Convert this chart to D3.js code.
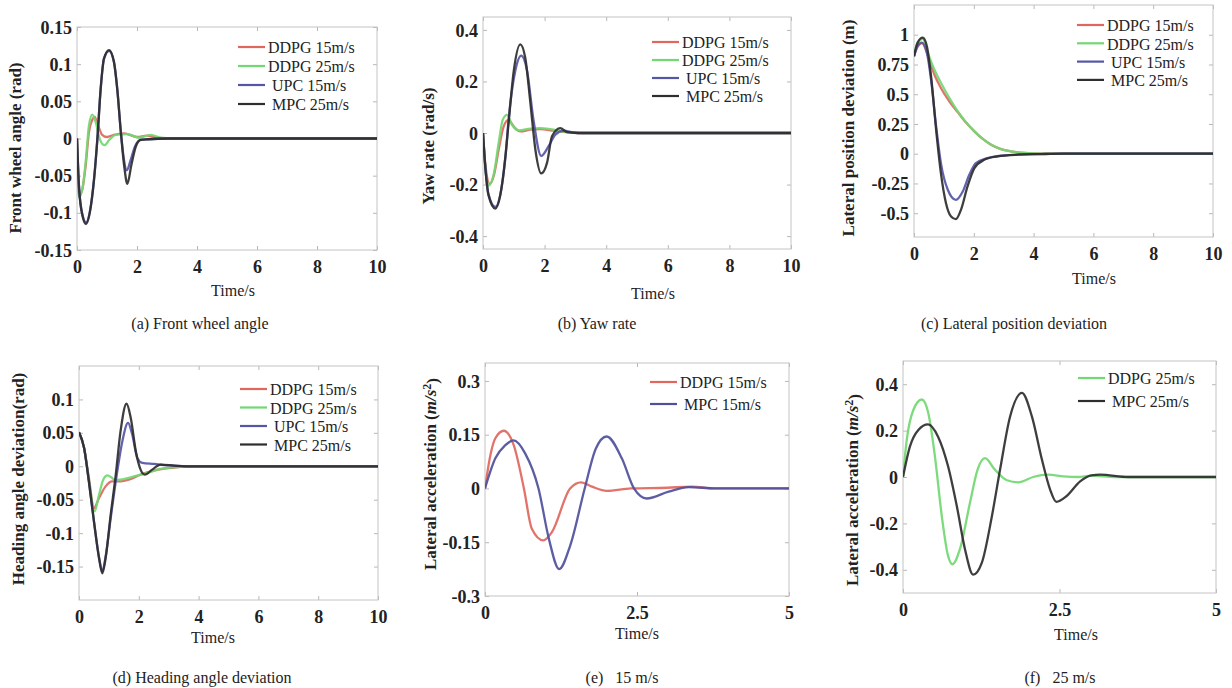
<!DOCTYPE html>
<html>
<head>
<meta charset="utf-8">
<script src="https://cdn.jsdelivr.net/npm/d3@7"></script>
<style>
  body { margin: 0; background: #fff; }
  svg text { font-family: "Liberation Serif", "Times New Roman", serif; fill: #222; white-space: pre; }
  .tick line { stroke: #b8b8b8; }
  .tick text { font-weight: bold; font-size: 18px; }
</style>
</head>
<body>
<svg id="chart" width="1232" height="688"></svg>
<script>
// ---- labels ----
const legendFour = ['DDPG 15m/s', 'DDPG 25m/s', ' UPC 15m/s', ' MPC 25m/s'];
const legend15 = ['DDPG 15m/s', ' MPC 15m/s'];
const legend25 = ['DDPG 25m/s', ' MPC 25m/s'];
const captions = ['(a) Front wheel angle', '(b) Yaw rate', '(c) Lateral position deviation',
                  '(d) Heading angle deviation', '(e)   15 m/s', '(f)   25 m/s'];

// ---- tick values / labels ----
const xTicks10 = [0, 2, 4, 6, 8, 10];
const xTickLabels10 = ['0', '2', '4', '6', '8', '10'];
const xTicks5 = [0, 2.5, 5];
const xTickLabels5 = ['0', '2.5', '5'];
const yTicksA = [-0.15, -0.1, -0.05, 0, 0.05, 0.1, 0.15];
const yTickLabelsA = ['-0.15', '-0.1', '-0.05', '0', '0.05', '0.1', '0.15'];
const yTicksB = [-0.4, -0.2, 0, 0.2, 0.4];
const yTickLabelsB = ['-0.4', '-0.2', '0', '0.2', '0.4'];
const yTicksC = [-0.5, -0.25, 0, 0.25, 0.5, 0.75, 1];
const yTickLabelsC = ['-0.5', '-0.25', '0', '0.25', '0.5', '0.75', '1'];
const yTicksD = [-0.15, -0.1, -0.05, 0, 0.05, 0.1];
const yTickLabelsD = ['-0.15', '-0.1', '-0.05', '0', '0.05', '0.1'];
const yTicksE = [-0.3, -0.15, 0, 0.15, 0.3];
const yTickLabelsE = ['-0.3', '-0.15', '0', '0.15', '0.3'];
const yTicksF = [-0.4, -0.2, 0, 0.2, 0.4];
const yTickLabelsF = ['-0.4', '-0.2', '0', '0.2', '0.4'];

// ---- (a) front wheel angle, [time s, rad] ----
const frontDdpg15 = [[0,0],[0.03,-0.058],[0.08,-0.076],[0.18,-0.068],[0.29,-0.036],[0.4,0.009],[0.51,0.025],[0.59,0.029],[0.7,0.018],[0.84,0.005],[1.0,0.002],[1.23,0.005],[1.57,0.007],[2.0,0.002],[2.34,0.004],[2.68,0.001],[3.0,0],[10,0]];
const frontDdpg25 = [[0,0],[0.03,-0.063],[0.07,-0.079],[0.18,-0.068],[0.29,-0.0315],[0.4,0.018],[0.51,0.032],[0.62,0.0225],[0.77,-0.002],[0.92,-0.009],[1.07,-0.002],[1.29,0.005],[1.68,0.006],[2.07,0.001],[2.46,0.005],[2.79,0.001],[3.2,0],[10,0]];
const frontUpc15 = [[0,0],[0.07,-0.066],[0.18,-0.102],[0.3,-0.113],[0.43,-0.098],[0.57,-0.054],[0.68,0],[0.79,0.067],[0.9,0.107],[1.07,0.118],[1.23,0.103],[1.34,0.067],[1.46,0.01],[1.57,-0.03],[1.66,-0.043],[1.78,-0.03],[1.94,-0.01],[2.12,-0.002],[2.4,-0.001],[3,0],[10,0]];
const frontMpc25 = [[0,0],[0.07,-0.0675],[0.18,-0.1035],[0.3,-0.115],[0.43,-0.099],[0.57,-0.054],[0.68,0],[0.79,0.0675],[0.9,0.108],[1.07,0.119],[1.23,0.1035],[1.34,0.0675],[1.46,0.009],[1.57,-0.036],[1.68,-0.061],[1.81,-0.036],[1.96,-0.011],[2.12,-0.002],[2.34,-0.001],[3,0],[10,0]];

// ---- (b) yaw rate, rad/s ----
const yawDdpg15 = [[0,0],[0.08,-0.127],[0.22,-0.197],[0.35,-0.166],[0.51,-0.064],[0.67,0.025],[0.83,0.051],[1.0,0.025],[1.21,0.006],[1.54,0.013],[1.86,0.015],[2.29,0.009],[2.73,0.003],[3.15,0],[10,0]];
const yawDdpg25 = [[0,0],[0.08,-0.14],[0.18,-0.204],[0.35,-0.159],[0.51,-0.038],[0.64,0.051],[0.78,0.07],[0.94,0.032],[1.16,0.01],[1.54,0.017],[1.86,0.019],[2.19,0.015],[2.73,0.003],[3.27,0],[10,0]];
const yawUpc15 = [[0,0],[0.08,-0.138],[0.18,-0.238],[0.4,-0.287],[0.56,-0.24],[0.73,-0.09],[0.83,0.05],[1.05,0.242],[1.24,0.3],[1.43,0.242],[1.64,0.05],[1.89,-0.089],[2.13,-0.051],[2.35,-0.006],[2.62,0.009],[2.94,0.002],[3.3,0],[10,0]];
const yawMpc25 = [[0,0],[0.08,-0.14],[0.18,-0.242],[0.4,-0.293],[0.56,-0.242],[0.73,-0.089],[0.83,0.038],[1.0,0.242],[1.21,0.344],[1.37,0.293],[1.54,0.115],[1.7,-0.064],[1.89,-0.157],[2.08,-0.115],[2.24,-0.013],[2.51,0.019],[2.73,0.003],[3.05,0],[10,0]];

// ---- (c) lateral position deviation, m ----
const latDdpg15 = [[0,0.82],[0.12,0.9],[0.27,0.93],[0.46,0.83],[0.68,0.666],[0.9,0.553],[1.18,0.441],[1.46,0.35],[1.74,0.262],[2.02,0.188],[2.3,0.124],[2.58,0.076],[2.91,0.039],[3.24,0.02],[3.69,0.006],[4.25,0],[10,0]];
const latDdpg25 = [[0,0.82],[0.12,0.933],[0.29,0.966],[0.46,0.848],[0.68,0.708],[0.9,0.596],[1.18,0.469],[1.46,0.357],[1.74,0.264],[2.02,0.188],[2.3,0.124],[2.58,0.076],[2.91,0.039],[3.24,0.02],[3.69,0.006],[4.25,0],[10,0]];
const latUpc15 = [[0,0.82],[0.12,0.904],[0.26,0.933],[0.43,0.848],[0.57,0.624],[0.74,0.23],[0.9,-0.079],[1.13,-0.303],[1.4,-0.388],[1.63,-0.317],[1.85,-0.177],[2.07,-0.079],[2.46,-0.037],[3.02,-0.014],[4.02,-0.003],[5,0],[10,0]];
const latMpc25 = [[0,0.82],[0.12,0.933],[0.29,0.975],[0.43,0.904],[0.57,0.652],[0.74,0.202],[0.9,-0.163],[1.07,-0.416],[1.24,-0.528],[1.4,-0.55],[1.57,-0.472],[1.79,-0.275],[2.02,-0.121],[2.35,-0.051],[2.8,-0.022],[3.47,-0.008],[4.25,-0.003],[5,0],[10,0]];

// ---- (d) heading angle deviation, rad ----
const headDdpg15 = [[0,0.051],[0.17,0.0275],[0.33,-0.0175],[0.5,-0.0625],[0.67,-0.0475],[0.89,-0.03],[1.11,-0.0225],[1.39,-0.0225],[1.67,-0.02],[2.06,-0.0125],[2.51,-0.0065],[3.07,-0.0025],[3.62,0],[10,0]];
const headDdpg25 = [[0,0.051],[0.17,0.0275],[0.33,-0.02],[0.52,-0.0675],[0.67,-0.0425],[0.81,-0.02],[0.95,-0.0135],[1.08,-0.0165],[1.19,-0.0205],[1.39,-0.02],[1.73,-0.0165],[2.17,-0.0115],[2.62,-0.005],[3.18,-0.0015],[3.8,0],[10,0]];
const headUpc15 = [[0,0.051],[0.17,0.0275],[0.33,-0.0225],[0.5,-0.0825],[0.67,-0.136],[0.78,-0.1575],[0.89,-0.135],[1.06,-0.0775],[1.28,-0.0075],[1.45,0.0375],[1.64,0.065],[1.78,0.0475],[1.95,0.0125],[2.12,0.005],[2.51,0.0035],[2.95,0.0015],[3.5,0],[10,0]];
const headMpc25 = [[0,0.051],[0.17,0.0275],[0.33,-0.0225],[0.5,-0.0825],[0.67,-0.1375],[0.78,-0.16],[0.89,-0.1375],[1.06,-0.0725],[1.23,-0.0125],[1.39,0.0525],[1.59,0.0935],[1.73,0.0725],[1.9,0.0225],[2.06,-0.005],[2.2,-0.0125],[2.45,-0.005],[2.73,0.0025],[3.18,0.001],[3.6,0],[10,0]];

// ---- (e) lateral acceleration at 15 m/s ----
const accDdpg15 = [[0,0],[0.09,0.094],[0.17,0.14],[0.31,0.161],[0.47,0.122],[0.64,0],[0.77,-0.1125],[0.96,-0.145],[1.1,-0.122],[1.4,0],[1.58,0.017],[1.76,0.005],[2.0,-0.0066],[2.4,0],[3.0,0.002],[3.4,0.005],[3.8,0],[5,0]];
const accMpc15 = [[0,0],[0.17,0.084],[0.33,0.12],[0.47,0.134],[0.66,0.098],[0.88,0],[1.05,-0.14],[1.22,-0.225],[1.4,-0.16],[1.64,0],[1.82,0.11],[2.0,0.145],[2.25,0.084],[2.45,0],[2.66,-0.028],[3.02,-0.009],[3.35,0.004],[3.8,0],[5,0]];

// ---- (f) lateral acceleration at 25 m/s ----
const accDdpg25 = [[0,0],[0.06,0.16],[0.165,0.289],[0.3,0.334],[0.4,0.28],[0.51,0.089],[0.62,-0.169],[0.72,-0.34],[0.79,-0.376],[0.91,-0.31],[1.07,-0.111],[1.19,0.031],[1.31,0.081],[1.47,0.031],[1.66,-0.014],[1.84,-0.023],[2.08,0],[2.32,0.01],[2.56,0.003],[2.8,0],[3.0,0.006],[3.4,0],[5,0]];
const accMpc25 = [[0,0],[0.11,0.131],[0.245,0.203],[0.4,0.227],[0.56,0.174],[0.72,0.046],[0.86,-0.126],[0.99,-0.311],[1.12,-0.421],[1.26,-0.369],[1.42,-0.169],[1.55,0.031],[1.71,0.26],[1.9,0.363],[2.06,0.26],[2.22,0.074],[2.35,-0.054],[2.45,-0.107],[2.61,-0.083],[2.83,-0.019],[3.01,0.007],[3.15,0.01],[3.6,0],[5,0]];

const COL = { ddpg15: '#e0675e', ddpg25: '#72d872', upc15: '#5656a6', mpc25: '#2e2e2e', mpc15: '#4f4f9c' };

const panels = [
  { box: [77, 377, 27, 250], xDomain: [0, 10], yDomain: [-0.15, 0.15],
    xTicks: xTicks10, xLabels: xTickLabels10, yTicks: yTicksA, yLabels: yTickLabelsA,
    series: [frontDdpg15, frontDdpg25, frontUpc15, frontMpc25], colors: [COL.ddpg15, COL.ddpg25, COL.upc15, COL.mpc25],
    legend: legendFour, legendAt: [238, 48, 19], ylabel: [{t: 'Front wheel angle (rad)'}], ylabelAt: [15, 148],
    xlabelAt: [233, 290], caption: captions[0], captionAt: [200, 323] },
  { box: [483, 791, 17, 249], xDomain: [0, 10], yDomain: [-0.45, 0.45],
    xTicks: xTicks10, xLabels: xTickLabels10, yTicks: yTicksB, yLabels: yTickLabelsB,
    series: [yawDdpg15, yawDdpg25, yawUpc15, yawMpc25], colors: [COL.ddpg15, COL.ddpg25, COL.upc15, COL.mpc25],
    legend: legendFour, legendAt: [652, 43, 18], ylabel: [{t: 'Yaw rate (rad/s)'}], ylabelAt: [428, 146],
    xlabelAt: [653, 293], caption: captions[1], captionAt: [597, 323] },
  { box: [914, 1213, 5, 237], xDomain: [0, 10], yDomain: [-0.7, 1.25],
    xTicks: xTicks10, xLabels: xTickLabels10, yTicks: yTicksC, yLabels: yTickLabelsC,
    series: [latDdpg15, latDdpg25, latUpc15, latMpc25], colors: [COL.ddpg15, COL.ddpg25, COL.upc15, COL.mpc25],
    legend: legendFour, legendAt: [1077, 26, 18.3], ylabel: [{t: 'Lateral position deviation (m)'}], ylabelAt: [848, 128],
    xlabelAt: [1094, 278], caption: captions[2], captionAt: [1014, 323] },
  { box: [79, 378, 366, 600], xDomain: [0, 10], yDomain: [-0.2, 0.15],
    xTicks: xTicks10, xLabels: xTickLabels10, yTicks: yTicksD, yLabels: yTickLabelsD,
    series: [headDdpg15, headDdpg25, headUpc15, headMpc25], colors: [COL.ddpg15, COL.ddpg25, COL.upc15, COL.mpc25],
    legend: legendFour, legendAt: [240, 390, 18.5], ylabel: [{t: 'Heading angle deviation(rad)'}], ylabelAt: [18, 479],
    xlabelAt: [213, 637], caption: captions[3], captionAt: [202, 677] },
  { box: [485, 789, 363, 596], xDomain: [0, 5], yDomain: [-0.3, 0.35],
    xTicks: xTicks5, xLabels: xTickLabels5, yTicks: yTicksE, yLabels: yTickLabelsE,
    series: [accDdpg15, accMpc15], colors: [COL.ddpg15, COL.mpc15],
    legend: legend15, legendAt: [650, 383, 22],
    ylabel: [{t: 'Lateral acceleration ('}, {t: 'm/s', it: true}, {t: '2', sup: true}, {t: ')', down: true}], ylabelAt: [430, 474],
    xlabelAt: [637, 633], caption: captions[4], captionAt: [622, 677] },
  { box: [903, 1216, 361, 593], xDomain: [0, 5], yDomain: [-0.5, 0.5],
    xTicks: xTicks5, xLabels: xTickLabels5, yTicks: yTicksF, yLabels: yTickLabelsF,
    series: [accDdpg25, accMpc25], colors: [COL.ddpg25, COL.mpc25],
    legend: legend25, legendAt: [1078, 379, 23],
    ylabel: [{t: 'Lateral acceleration ('}, {t: 'm/s', it: true}, {t: '2', sup: true}, {t: ')', down: true}], ylabelAt: [852, 490],
    xlabelAt: [1076, 634], caption: captions[5], captionAt: [1060, 677] }
];

const svg = d3.select('#chart');

function drawPanel(p, i) {
  const [left, right, top, bottom] = p.box;
  const x = d3.scaleLinear().domain(p.xDomain).range([left, right]);
  const y = d3.scaleLinear().domain(p.yDomain).range([bottom, top]);
  const g = svg.append('g');

  g.append('clipPath').attr('id', 'clip' + i)
    .append('rect').attr('x', left).attr('y', top).attr('width', right - left).attr('height', bottom - top);

  // axes: ticks point inwards, box drawn separately
  g.append('g').attr('transform', `translate(0,${bottom})`)
    .call(d3.axisBottom(x).tickValues(p.xTicks).tickFormat((d, k) => p.xLabels[k])
      .tickSizeInner(-4).tickSizeOuter(0).tickPadding(10));
  const yl = g.append('g').attr('transform', `translate(${left},0)`)
    .call(d3.axisLeft(y).tickValues(p.yTicks).tickFormat((d, k) => p.yLabels[k])
      .tickSizeInner(-4).tickSizeOuter(0).tickPadding(5));
  g.append('g').attr('transform', `translate(0,${top})`)
    .call(d3.axisTop(x).tickValues(p.xTicks).tickFormat('').tickSizeInner(-4).tickSizeOuter(0));
  g.append('g').attr('transform', `translate(${right},0)`)
    .call(d3.axisRight(y).tickValues(p.yTicks).tickFormat('').tickSizeInner(-4).tickSizeOuter(0));
  g.selectAll('.domain').remove();
  g.selectAll('.tick text').attr('fill', '#222').style('font-family', '"Liberation Serif", serif');
  yl.selectAll('.tick text').attr('dy', '0.34em');

  g.append('rect').attr('x', left).attr('y', top).attr('width', right - left).attr('height', bottom - top)
    .attr('fill', 'none').attr('stroke', '#c4c4c4').attr('stroke-width', 1);

  const line = d3.line().x(d => x(d[0])).y(d => y(d[1])).curve(d3.curveMonotoneX);
  g.append('g').attr('clip-path', `url(#clip${i})`)
    .selectAll('path').data(p.series).join('path')
    .attr('d', line)
    .attr('fill', 'none')
    .attr('stroke', (d, k) => p.colors[k])
    .attr('stroke-width', 2.3)
    .attr('stroke-linejoin', 'round')
    .attr('stroke-opacity', 0.92);

  // legend
  const [lx, ly, step] = p.legendAt;
  const lg = g.append('g');
  p.legend.forEach((name, k) => {
    const yy = ly + k * step;
    lg.append('line').attr('x1', lx).attr('x2', lx + 27).attr('y1', yy - 1).attr('y2', yy - 1)
      .attr('stroke', p.colors[k]).attr('stroke-width', 2.2);
    lg.append('text').attr('x', lx + 30).attr('y', yy).attr('dy', '0.33em')
      .attr('font-size', 16).text(name);
  });

  // y label
  const yt = g.append('text')
    .attr('transform', `translate(${p.ylabelAt[0]},${p.ylabelAt[1]}) rotate(-90)`)
    .attr('text-anchor', 'middle').attr('dy', '0.35em')
    .attr('font-size', 17).attr('font-weight', 'bold');
  p.ylabel.forEach(part => {
    const ts = yt.append('tspan').text(part.t);
    if (part.it) ts.attr('font-style', 'italic');
    if (part.sup) ts.attr('dy', '-0.45em').attr('font-size', 12);
    if (part.down) ts.attr('dy', '0.45em');
  });

  // x label and caption
  g.append('text').attr('x', p.xlabelAt[0]).attr('y', p.xlabelAt[1]).attr('dy', '0.35em')
    .attr('text-anchor', 'middle').attr('font-size', 16).text('Time/s');
  g.append('text').attr('x', p.captionAt[0]).attr('y', p.captionAt[1]).attr('dy', '0.35em')
    .attr('text-anchor', 'middle').attr('font-size', 16).text(p.caption);
}

panels.forEach(drawPanel);
</script>
</body>
</html>
